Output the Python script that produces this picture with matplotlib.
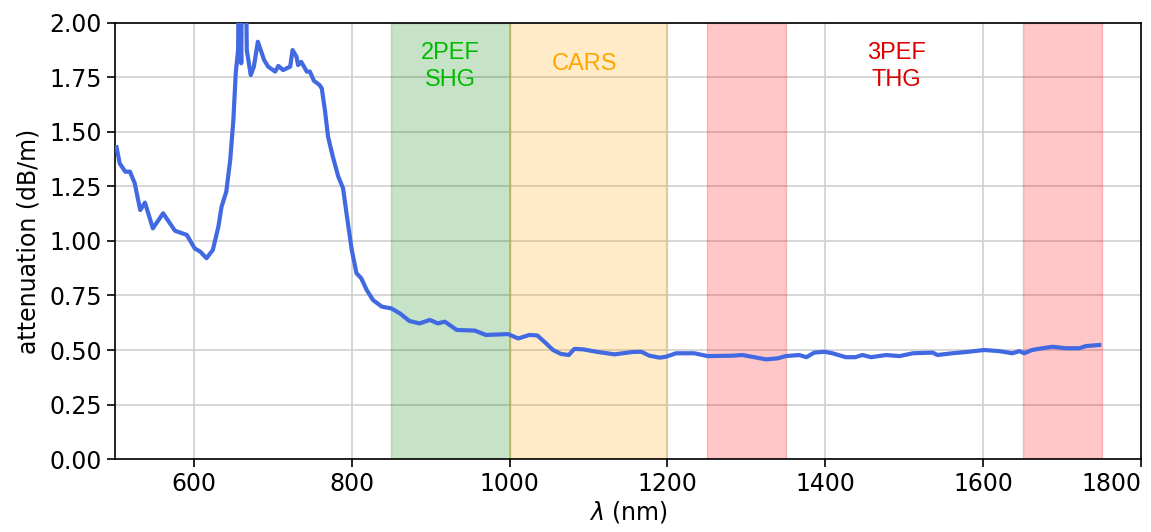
import numpy as np
import matplotlib.pyplot as plt

# wavelength (nm) and attenuation (dB/m)
wavelength = [502, 506, 513, 519, 525, 532, 538, 548, 561, 576, 591, 601, 608, 616, 624,
              631, 635, 641, 646, 650, 653, 656, 657, 660, 661, 666, 667, 672, 676, 681,
              689, 694, 703, 707, 713, 722, 725, 730, 732, 736, 743, 747, 752, 759, 762,
              766, 770, 776, 783, 789, 794, 800, 806, 812, 819, 827, 838, 850, 861, 873,
              886, 899, 909, 918, 933, 956, 970, 998, 1011, 1025, 1035, 1044, 1055, 1065,
              1075, 1082, 1093, 1110, 1133, 1156, 1167, 1177, 1190, 1198, 1211, 1234,
              1251, 1283, 1295, 1325, 1340, 1350, 1367, 1376, 1386, 1399, 1409, 1426,
              1438, 1447, 1458, 1477, 1494, 1511, 1536, 1542, 1561, 1582, 1601, 1620,
              1637, 1646, 1652, 1662, 1675, 1688, 1705, 1722, 1730, 1747]
attenuation = [1.43, 1.356, 1.318, 1.318, 1.265, 1.142, 1.176, 1.058, 1.127, 1.047, 1.028,
               0.966, 0.951, 0.921, 0.959, 1.066, 1.157, 1.226, 1.372, 1.555, 1.77, 1.876,
               2.3, 1.815, 2.3, 2.2, 1.876, 1.761, 1.80, 1.914, 1.83, 1.80, 1.777, 1.803,
               1.784, 1.80, 1.876, 1.845, 1.807, 1.822, 1.777, 1.777, 1.735, 1.716, 1.70,
               1.60, 1.478, 1.387, 1.295, 1.242, 1.11, 0.959, 0.852, 0.829, 0.775, 0.729,
               0.699, 0.691, 0.668, 0.633, 0.622, 0.638, 0.622, 0.63, 0.592, 0.589, 0.569,
               0.573, 0.553, 0.569, 0.567, 0.538, 0.50, 0.482, 0.477, 0.505, 0.503, 0.492,
               0.48, 0.491, 0.492, 0.474, 0.465, 0.469, 0.485, 0.485, 0.472, 0.474, 0.477,
               0.457, 0.462, 0.472, 0.477, 0.467, 0.488, 0.492, 0.485, 0.467, 0.467, 0.477,
               0.467, 0.477, 0.472, 0.485, 0.488, 0.477, 0.485, 0.492, 0.50, 0.495, 0.485,
               0.495, 0.485, 0.50, 0.508, 0.515, 0.508, 0.508, 0.518, 0.523]

# imaging windows
bands = [(850, 1000, 'green'), (1000, 1200, 'orange'), (1250, 1350, 'red'), (1650, 1750, 'red')]
labels = [(925, 1.80, '2PEF\nSHG', '#00bb00'),
          (1095, 1.81, 'CARS', 'orange'),
          (1490, 1.80, '3PEF\nTHG', '#dd0000')]

fs = 17

fig = plt.figure(figsize=(11.51, 5.32), dpi=100)
ax = fig.add_axes([0.0999, 0.1372, 0.8914, 0.8196])

for lo, hi, c in bands:
    ax.axvspan(lo, hi, color=c, alpha=0.22, zorder=1)

ax.plot(wavelength, attenuation, color='royalblue', lw=3, zorder=3)

for x, y, t, c in labels:
    ax.text(x, y, t, color=c, ha='center', va='center', fontsize=fs,
            family='Liberation Sans', linespacing=1.25, zorder=4)

ax.set_xlim(500, 1800)
ax.set_ylim(0, 2)
ax.set_xticks([600, 800, 1000, 1200, 1400, 1600, 1800])
ax.set_yticks(np.arange(0, 2.01, 0.25))
ax.yaxis.set_major_formatter(plt.FormatStrFormatter('%.2f'))
ax.grid(True, color='#d0d0d0', lw=1.2, zorder=0)
ax.set_axisbelow(True)
ax.tick_params(labelsize=fs, length=6, width=1.2)
for s in ax.spines.values():
    s.set_linewidth(1.2)
ax.set_xlabel(r'$\lambda$ (nm)', fontsize=fs, labelpad=2)
ax.set_ylabel('attenuation (dB/m)', fontsize=fs, labelpad=6)

fig.canvas.draw()
ax.get_xticklabels()[-1].set_horizontalalignment('right')
ax.get_xticklabels()[-1].set_x(1800)

fig.savefig('out.png', dpi=100)
